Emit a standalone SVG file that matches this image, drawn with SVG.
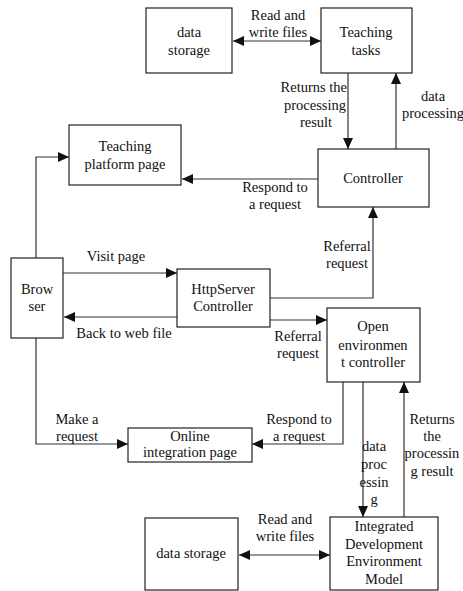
<svg xmlns="http://www.w3.org/2000/svg" width="463" height="591" viewBox="0 0 463 591" font-family="'Liberation Serif', 'DejaVu Serif', serif">
<style>
.box{fill:#fff;stroke:#222;stroke-width:1.2}
.t{font-family:'Liberation Serif','DejaVu Serif',serif;font-size:14.5px;fill:#111;text-anchor:middle}
.r{text-anchor:end}
.c{fill:none;stroke:#333;stroke-width:1.2}
</style>
<defs>
<marker id="ah" markerUnits="userSpaceOnUse" markerWidth="12" markerHeight="10" refX="11" refY="5" orient="auto-start-reverse">
<path d="M0,0 L11,5 L0,10 z" fill="#111"/>
</marker>
</defs>
<rect width="463" height="591" fill="#fff"/>
<g id="connectors">
<line class="c" x1="233" y1="41" x2="321" y2="41" marker-start="url(#ah)" marker-end="url(#ah)"/>
<line class="c" x1="348" y1="73" x2="348" y2="149" marker-end="url(#ah)"/>
<line class="c" x1="396" y1="149" x2="396" y2="73" marker-end="url(#ah)"/>
<line class="c" x1="318" y1="179" x2="182" y2="179" marker-end="url(#ah)"/>
<path class="c" d="M36,258 V157 H69" marker-end="url(#ah)"/>
<line class="c" x1="63" y1="273" x2="177" y2="273" marker-end="url(#ah)"/>
<line class="c" x1="177" y1="317" x2="64" y2="317" marker-end="url(#ah)"/>
<path class="c" d="M270,298 H373 V207" marker-end="url(#ah)"/>
<line class="c" x1="270" y1="320" x2="327" y2="320" marker-end="url(#ah)"/>
<path class="c" d="M36,338 V444 H128" marker-end="url(#ah)"/>
<path class="c" d="M343,382 V444 H252" marker-end="url(#ah)"/>
<line class="c" x1="363" y1="382" x2="363" y2="517" marker-end="url(#ah)"/>
<line class="c" x1="404" y1="517" x2="404" y2="382" marker-end="url(#ah)"/>
<line class="c" x1="239" y1="555" x2="330" y2="555" marker-start="url(#ah)" marker-end="url(#ah)"/>
<text class="t" x="278" y="20">Read and</text>
<text class="t" x="278" y="37">write files</text>
<text class="t r" x="347" y="92">Returns the</text>
<text class="t r" x="346" y="110">processing</text>
<text class="t" x="316" y="127">result</text>
<text class="t" x="433" y="101">data</text>
<text class="t" x="433" y="118">processing</text>
<text class="t" x="275" y="192">Respond to</text>
<text class="t" x="275" y="209">a request</text>
<text class="t" x="116" y="261">Visit page</text>
<text class="t" x="347" y="251">Referral</text>
<text class="t" x="347" y="268">request</text>
<text class="t" x="124" y="338">Back to web file</text>
<text class="t" x="298" y="341">Referral</text>
<text class="t" x="298" y="358">request</text>
<text class="t" x="77" y="424">Make a</text>
<text class="t" x="77" y="441">request</text>
<text class="t" x="299" y="424">Respond to</text>
<text class="t" x="299" y="441">a request</text>
<text class="t" x="374" y="451">data</text>
<text class="t" x="374" y="469">proc</text>
<text class="t" x="374" y="487">essin</text>
<text class="t" x="374" y="504">g</text>
<text class="t" x="432" y="424">Returns</text>
<text class="t" x="432" y="441">the</text>
<text class="t" x="432" y="458">processin</text>
<text class="t" x="432" y="476">g result</text>
<text class="t" x="285" y="524">Read and</text>
<text class="t" x="285" y="541">write files</text>
</g>
<g id="data-storage-top">
<rect class="box" x="146" y="8" width="86" height="65"/>
<text class="t" x="189" y="37">data</text>
<text class="t" x="189" y="55">storage</text>
</g>
<g id="teaching-tasks">
<rect class="box" x="321" y="8" width="91" height="65"/>
<text class="t" x="366" y="37">Teaching</text>
<text class="t" x="366" y="55">tasks</text>
</g>
<g id="teaching-platform-page">
<rect class="box" x="69" y="125" width="112" height="60"/>
<text class="t" x="125" y="151">Teaching</text>
<text class="t" x="125" y="169">platform page</text>
</g>
<g id="controller">
<rect class="box" x="318" y="149" width="111" height="58"/>
<text class="t" x="373" y="183">Controller</text>
</g>
<g id="browser">
<rect class="box" x="11" y="258" width="52" height="80"/>
<text class="t" x="37" y="294">Brow</text>
<text class="t" x="37" y="311">ser</text>
</g>
<g id="httpserver-controller">
<rect class="box" x="177" y="269" width="93" height="58"/>
<text class="t" x="223" y="294">HttpServer</text>
<text class="t" x="223" y="311">Controller</text>
</g>
<g id="open-environment-controller">
<rect class="box" x="327" y="308" width="93" height="74"/>
<text class="t" x="373" y="331">Open</text>
<text class="t" x="373" y="350">environmen</text>
<text class="t" x="373" y="367">t controller</text>
</g>
<g id="online-integration-page">
<rect class="box" x="128" y="428" width="124" height="34"/>
<text class="t" x="190" y="441">Online</text>
<text class="t" x="190" y="457">integration page</text>
</g>
<g id="data-storage-bottom">
<rect class="box" x="145" y="518" width="93" height="72"/>
<text class="t" x="191" y="558">data storage</text>
</g>
<g id="ide-model">
<rect class="box" x="330" y="517" width="108" height="73"/>
<text class="t" x="384" y="531">Integrated</text>
<text class="t" x="384" y="549">Development</text>
<text class="t" x="384" y="566">Environment</text>
<text class="t" x="384" y="584">Model</text>
</g>
</svg>
